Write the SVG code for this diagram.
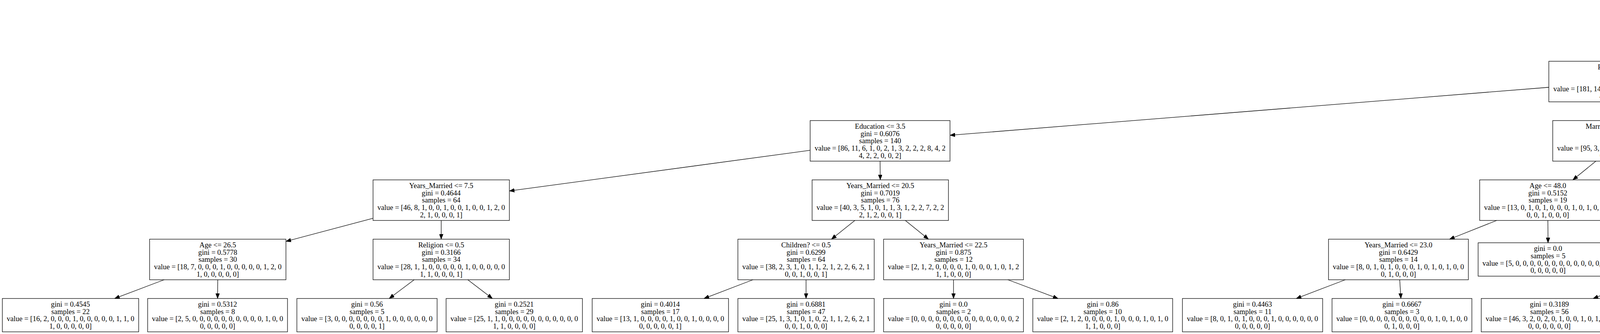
<svg xmlns="http://www.w3.org/2000/svg" width="6785" height="856" viewBox="0 0 6785 856">
<style>
.node rect{fill:none;stroke:#000;stroke-width:1.3}
text{font-family:"Liberation Serif","Times New Roman",serif;font-size:18.6px;fill:#000;text-anchor:middle}
.edge line{stroke:#000;stroke-width:1.3;marker-end:url(#ah)}
</style>
<defs>
<marker id="ah" viewBox="0 0 13 10" refX="13" refY="5" markerWidth="13" markerHeight="10" markerUnits="userSpaceOnUse" orient="auto"><path d="M0,0 L13,5 L0,10 Z" fill="#000" stroke="#000" stroke-width="0.8"/></marker>
</defs>
<rect x="0" y="0" width="6785" height="856" fill="#fff"/>
<g id="edges" class="edge">
<line x1="4336.8" y1="109" x2="4248" y2="157"/>
<line x1="4532.5" y1="109" x2="4621" y2="157"/>
<line x1="3965" y1="223.75" x2="2432" y2="346.65"/>
<line x1="4149" y1="261" x2="4149.5" y2="309"/>
<line x1="4721" y1="261" x2="4720.5" y2="309"/>
<line x1="4900" y1="245" x2="5298" y2="325"/>
<line x1="2074" y1="385.2" x2="1304" y2="489.4"/>
<line x1="2253" y1="413" x2="2253.5" y2="461"/>
<line x1="4085.5" y1="413" x2="4026.5" y2="461"/>
<line x1="4214.5" y1="413" x2="4274.5" y2="461"/>
<line x1="4720.5" y1="413" x2="4720" y2="470.75"/>
<line x1="4850.2" y1="413" x2="4969.9" y2="461"/>
<line x1="5477" y1="413" x2="5477.5" y2="470.75"/>
<line x1="5604.4" y1="413" x2="5722.1" y2="461"/>
<line x1="955" y1="559.4" x2="732" y2="618.6"/>
<line x1="1129.5" y1="565" x2="1129.5" y2="613"/>
<line x1="2188.5" y1="565" x2="2128.5" y2="613"/>
<line x1="2317.6" y1="565" x2="2376.9" y2="613"/>
<line x1="3831.6" y1="565" x2="3710.8" y2="613"/>
<line x1="3962.5" y1="565" x2="3963" y2="622.25"/>
<line x1="4339.5" y1="565" x2="4340" y2="613"/>
<line x1="4467.4" y1="565" x2="4585.6" y2="613"/>
<line x1="5096.25" y1="565" x2="5092.7" y2="622.25"/>
<line x1="5227.3" y1="565" x2="5368.1" y2="622.25"/>
<line x1="5849.5" y1="565" x2="5850.5" y2="613"/>
<line x1="5978.8" y1="565" x2="6098.2" y2="613"/>
<line x1="420.2" y1="717" x2="293.4" y2="765"/>
<line x1="557.5" y1="717" x2="557" y2="765"/>
<line x1="1060.3" y1="717" x2="996.4" y2="765"/>
<line x1="1197.6" y1="717" x2="1260.5" y2="765"/>
<line x1="1927.6" y1="717" x2="1802.2" y2="765"/>
<line x1="2063.5" y1="717" x2="2063.5" y2="765"/>
<line x1="2441" y1="717" x2="2441" y2="765"/>
<line x1="2580.2" y1="717" x2="2708.6" y2="765"/>
<line x1="3443.9" y1="717" x2="3318.4" y2="765"/>
<line x1="3583.3" y1="717" x2="3586.3" y2="765"/>
<line x1="4203.9" y1="717" x2="4078.4" y2="765"/>
<line x1="4340" y1="717" x2="4340" y2="765"/>
<line x1="4713.5" y1="717" x2="4713.5" y2="765"/>
<line x1="4850.7" y1="717" x2="4977.2" y2="765"/>
<line x1="5713" y1="717" x2="5586.1" y2="765"/>
<line x1="5850.5" y1="717" x2="5850.5" y2="765"/>
<line x1="6227.5" y1="717" x2="6228" y2="765"/>
<line x1="6364.8" y1="717" x2="6491.6" y2="765"/>
<text x="4256" y="132">True</text>
<text x="4612.5" y="132">False</text>
</g>
<g id="n0" class="node"><rect x="4246" y="5" width="377" height="104"/><text><tspan x="4434.5" y="26.1">Marriage_Rating &lt;= 3.5</tspan><tspan x="4434.5" y="44.7">gini = 0.3994</tspan><tspan x="4434.5" y="63.3">samples = 420</tspan><tspan x="4434.5" y="81.9">value = [324, 23, 12, 1, 3, 3, 2, 5, 5, 4, 4, 9, 7, 2</tspan><tspan x="4434.5" y="100.5">5, 2, 3, 1, 2, 3]</tspan></text></g>
<g id="n1" class="node"><rect x="3965" y="157" width="368" height="104"/><text><tspan x="4149" y="178.1">Religion &lt;= 2.5</tspan><tspan x="4149" y="196.7">gini = 0.4886</tspan><tspan x="4149" y="215.3">samples = 255</tspan><tspan x="4149" y="233.9">value = [181, 14, 9, 1, 3, 3, 2, 4, 3, 3, 4, 9, 5, 2</tspan><tspan x="4149" y="252.5">4, 2, 3, 1, 0, 2]</tspan></text></g>
<g id="n2" class="node"><rect x="4542" y="157" width="358" height="104"/><text><tspan x="4721" y="178.1">Age &lt;= 18.5</tspan><tspan x="4721" y="196.7">gini = 0.245</tspan><tspan x="4721" y="215.3">samples = 165</tspan><tspan x="4721" y="233.9">value = [143, 9, 3, 0, 0, 0, 0, 1, 2, 1, 0, 0, 2, 0</tspan><tspan x="4721" y="252.5">1, 0, 0, 0, 2, 1]</tspan></text></g>
<g id="n3" class="node"><rect x="2074" y="309" width="358" height="104"/><text><tspan x="2253" y="330.1">Education &lt;= 3.5</tspan><tspan x="2253" y="348.7">gini = 0.6076</tspan><tspan x="2253" y="367.3">samples = 140</tspan><tspan x="2253" y="385.9">value = [86, 11, 6, 1, 0, 2, 1, 3, 2, 2, 2, 8, 4, 2</tspan><tspan x="2253" y="404.5">4, 2, 2, 0, 0, 2]</tspan></text></g>
<g id="n4" class="node"><rect x="3975" y="309" width="349" height="104"/><text><tspan x="4149.5" y="330.1">Marriage_Rating &lt;= 1.5</tspan><tspan x="4149.5" y="348.7">gini = 0.3146</tspan><tspan x="4149.5" y="367.3">samples = 115</tspan><tspan x="4149.5" y="385.9">value = [95, 3, 3, 0, 3, 1, 1, 1, 1, 1, 2, 1, 1, 0</tspan><tspan x="4149.5" y="404.5">0, 0, 1, 1, 0, 0]</tspan></text></g>
<g id="n5" class="node"><rect x="4541.5" y="309" width="358" height="104"/><text><tspan x="4720.5" y="330.1">Years_Married &lt;= 0.875</tspan><tspan x="4720.5" y="348.7">gini = 0.6667</tspan><tspan x="4720.5" y="367.3">samples = 3</tspan><tspan x="4720.5" y="385.9">value = [1, 1, 0, 0, 0, 0, 0, 0, 0, 0, 0, 0, 0, 0, 1</tspan><tspan x="4720.5" y="404.5">0, 0, 0, 0, 0]</tspan></text></g>
<g id="n6" class="node"><rect x="5298" y="309" width="358" height="104"/><text><tspan x="5477" y="330.1">Years_Married &lt;= 3.5</tspan><tspan x="5477" y="348.7">gini = 0.2283</tspan><tspan x="5477" y="367.3">samples = 162</tspan><tspan x="5477" y="385.9">value = [142, 8, 3, 0, 0, 0, 0, 1, 2, 1, 0, 0, 2, 0</tspan><tspan x="5477" y="404.5">0, 0, 0, 0, 2, 1]</tspan></text></g>
<g id="n7" class="node"><rect x="955" y="461" width="349" height="104"/><text><tspan x="1129.5" y="482.1">Years_Married &lt;= 7.5</tspan><tspan x="1129.5" y="500.7">gini = 0.4644</tspan><tspan x="1129.5" y="519.3">samples = 64</tspan><tspan x="1129.5" y="537.9">value = [46, 8, 1, 0, 0, 1, 0, 0, 1, 0, 0, 1, 2, 0</tspan><tspan x="1129.5" y="556.5">2, 1, 0, 0, 0, 1]</tspan></text></g>
<g id="n8" class="node"><rect x="2079" y="461" width="349" height="104"/><text><tspan x="2253.5" y="482.1">Years_Married &lt;= 20.5</tspan><tspan x="2253.5" y="500.7">gini = 0.7019</tspan><tspan x="2253.5" y="519.3">samples = 76</tspan><tspan x="2253.5" y="537.9">value = [40, 3, 5, 1, 0, 1, 1, 3, 1, 2, 2, 7, 2, 2</tspan><tspan x="2253.5" y="556.5">2, 1, 2, 0, 0, 1]</tspan></text></g>
<g id="n9" class="node"><rect x="3788" y="461" width="349" height="104"/><text><tspan x="3962.5" y="482.1">Age &lt;= 48.0</tspan><tspan x="3962.5" y="500.7">gini = 0.5152</tspan><tspan x="3962.5" y="519.3">samples = 19</tspan><tspan x="3962.5" y="537.9">value = [13, 0, 1, 0, 1, 0, 0, 0, 1, 0, 1, 0, 1, 0</tspan><tspan x="3962.5" y="556.5">0, 0, 1, 0, 0, 0]</tspan></text></g>
<g id="n10" class="node"><rect x="4165" y="461" width="349" height="104"/><text><tspan x="4339.5" y="482.1">Age &lt;= 43.5</tspan><tspan x="4339.5" y="500.7">gini = 0.2678</tspan><tspan x="4339.5" y="519.3">samples = 96</tspan><tspan x="4339.5" y="537.9">value = [82, 3, 2, 0, 2, 1, 1, 1, 0, 1, 1, 1, 0, 0</tspan><tspan x="4339.5" y="556.5">0, 0, 0, 1, 0, 0]</tspan></text></g>
<g id="n11" class="node"><rect x="4541" y="470.75" width="358" height="85.5"/><text><tspan x="4720" y="491.9">gini = 0.0</tspan><tspan x="4720" y="510.5">samples = 1</tspan><tspan x="4720" y="529.1">value = [0, 1, 0, 0, 0, 0, 0, 0, 0, 0, 0, 0, 0, 0, 0</tspan><tspan x="4720" y="547.7">0, 0, 0, 0, 0]</tspan></text></g>
<g id="n12" class="node"><rect x="4920" y="461" width="359" height="104"/><text><tspan x="5099.5" y="482.1">Religion &lt;= 1.5</tspan><tspan x="5099.5" y="500.7">gini = 0.5</tspan><tspan x="5099.5" y="519.3">samples = 2</tspan><tspan x="5099.5" y="537.9">value = [1, 0, 0, 0, 0, 0, 0, 0, 0, 0, 0, 0, 0, 0, 1</tspan><tspan x="5099.5" y="556.5">0, 0, 0, 0, 0]</tspan></text></g>
<g id="n13" class="node"><rect x="5303" y="470.75" width="349" height="85.5"/><text><tspan x="5477.5" y="491.9">gini = 0.0</tspan><tspan x="5477.5" y="510.5">samples = 56</tspan><tspan x="5477.5" y="529.1">value = [56, 0, 0, 0, 0, 0, 0, 0, 0, 0, 0, 0, 0, 0</tspan><tspan x="5477.5" y="547.7">0, 0, 0, 0, 0, 0]</tspan></text></g>
<g id="n14" class="node"><rect x="5675" y="461" width="349" height="104"/><text><tspan x="5849.5" y="482.1">Education &lt;= 4.5</tspan><tspan x="5849.5" y="500.7">gini = 0.3339</tspan><tspan x="5849.5" y="519.3">samples = 106</tspan><tspan x="5849.5" y="537.9">value = [86, 8, 3, 0, 0, 0, 0, 1, 2, 1, 0, 0, 2, 0</tspan><tspan x="5849.5" y="556.5">0, 0, 0, 0, 2, 1]</tspan></text></g>
<g id="n15" class="node"><rect x="383" y="613" width="349" height="104"/><text><tspan x="557.5" y="634.1">Age &lt;= 26.5</tspan><tspan x="557.5" y="652.7">gini = 0.5778</tspan><tspan x="557.5" y="671.3">samples = 30</tspan><tspan x="557.5" y="689.9">value = [18, 7, 0, 0, 0, 1, 0, 0, 0, 0, 0, 1, 2, 0</tspan><tspan x="557.5" y="708.5">1, 0, 0, 0, 0, 0]</tspan></text></g>
<g id="n16" class="node"><rect x="955" y="613" width="349" height="104"/><text><tspan x="1129.5" y="634.1">Religion &lt;= 0.5</tspan><tspan x="1129.5" y="652.7">gini = 0.3166</tspan><tspan x="1129.5" y="671.3">samples = 34</tspan><tspan x="1129.5" y="689.9">value = [28, 1, 1, 0, 0, 0, 0, 0, 1, 0, 0, 0, 0, 0</tspan><tspan x="1129.5" y="708.5">1, 1, 0, 0, 0, 1]</tspan></text></g>
<g id="n17" class="node"><rect x="1889" y="613" width="349" height="104"/><text><tspan x="2063.5" y="634.1">Children? &lt;= 0.5</tspan><tspan x="2063.5" y="652.7">gini = 0.6299</tspan><tspan x="2063.5" y="671.3">samples = 64</tspan><tspan x="2063.5" y="689.9">value = [38, 2, 3, 1, 0, 1, 1, 2, 1, 2, 2, 6, 2, 1</tspan><tspan x="2063.5" y="708.5">0, 0, 1, 0, 0, 1]</tspan></text></g>
<g id="n18" class="node"><rect x="2262" y="613" width="358" height="104"/><text><tspan x="2441" y="634.1">Years_Married &lt;= 22.5</tspan><tspan x="2441" y="652.7">gini = 0.875</tspan><tspan x="2441" y="671.3">samples = 12</tspan><tspan x="2441" y="689.9">value = [2, 1, 2, 0, 0, 0, 0, 1, 0, 0, 0, 1, 0, 1, 2</tspan><tspan x="2441" y="708.5">1, 1, 0, 0, 0]</tspan></text></g>
<g id="n19" class="node"><rect x="3401" y="613" width="358" height="104"/><text><tspan x="3580" y="634.1">Years_Married &lt;= 23.0</tspan><tspan x="3580" y="652.7">gini = 0.6429</tspan><tspan x="3580" y="671.3">samples = 14</tspan><tspan x="3580" y="689.9">value = [8, 0, 1, 0, 1, 0, 0, 0, 1, 0, 1, 0, 1, 0, 0</tspan><tspan x="3580" y="708.5">0, 1, 0, 0, 0]</tspan></text></g>
<g id="n20" class="node"><rect x="3784" y="622.25" width="358" height="85.5"/><text><tspan x="3963" y="643.4">gini = 0.0</tspan><tspan x="3963" y="662">samples = 5</tspan><tspan x="3963" y="680.6">value = [5, 0, 0, 0, 0, 0, 0, 0, 0, 0, 0, 0, 0, 0, 0</tspan><tspan x="3963" y="699.2">0, 0, 0, 0, 0]</tspan></text></g>
<g id="n21" class="node"><rect x="4166" y="613" width="348" height="104"/><text><tspan x="4340" y="634.1">Age &lt;= 35.5</tspan><tspan x="4340" y="652.7">gini = 0.2339</tspan><tspan x="4340" y="671.3">samples = 79</tspan><tspan x="4340" y="689.9">value = [69, 3, 2, 0, 2, 0, 1, 0, 0, 1, 0, 1, 0, 0</tspan><tspan x="4340" y="708.5">0, 0, 0, 0, 0, 0]</tspan></text></g>
<g id="n22" class="node"><rect x="4539" y="613" width="349" height="104"/><text><tspan x="4713.5" y="634.1">Education &lt;= 5.5</tspan><tspan x="4713.5" y="652.7">gini = 0.4014</tspan><tspan x="4713.5" y="671.3">samples = 17</tspan><tspan x="4713.5" y="689.9">value = [13, 0, 0, 0, 0, 1, 0, 1, 0, 0, 1, 0, 0, 0</tspan><tspan x="4713.5" y="708.5">0, 0, 0, 1, 0, 0]</tspan></text></g>
<g id="n23" class="node"><rect x="4911" y="622.25" width="358" height="85.5"/><text><tspan x="5090" y="643.4">gini = 0.0</tspan><tspan x="5090" y="662">samples = 1</tspan><tspan x="5090" y="680.6">value = [0, 0, 0, 0, 0, 0, 0, 0, 0, 0, 0, 0, 0, 0, 1</tspan><tspan x="5090" y="699.2">0, 0, 0, 0, 0]</tspan></text></g>
<g id="n24" class="node"><rect x="5294" y="622.25" width="358" height="85.5"/><text><tspan x="5473" y="643.4">gini = 0.0</tspan><tspan x="5473" y="662">samples = 1</tspan><tspan x="5473" y="680.6">value = [1, 0, 0, 0, 0, 0, 0, 0, 0, 0, 0, 0, 0, 0, 0</tspan><tspan x="5473" y="699.2">0, 0, 0, 0, 0]</tspan></text></g>
<g id="n25" class="node"><rect x="5676" y="613" width="349" height="104"/><text><tspan x="5850.5" y="634.1">Children? &lt;= 0.5</tspan><tspan x="5850.5" y="652.7">gini = 0.24</tspan><tspan x="5850.5" y="671.3">samples = 76</tspan><tspan x="5850.5" y="689.9">value = [66, 5, 1, 0, 0, 0, 0, 0, 2, 0, 0, 0, 0, 0</tspan><tspan x="5850.5" y="708.5">0, 0, 0, 0, 2, 0]</tspan></text></g>
<g id="n26" class="node"><rect x="6053" y="613" width="349" height="104"/><text><tspan x="6227.5" y="634.1">Religion &lt;= 0.5</tspan><tspan x="6227.5" y="652.7">gini = 0.5333</tspan><tspan x="6227.5" y="671.3">samples = 30</tspan><tspan x="6227.5" y="689.9">value = [20, 3, 2, 0, 0, 0, 0, 1, 0, 1, 0, 0, 2, 0</tspan><tspan x="6227.5" y="708.5">0, 0, 0, 0, 0, 1]</tspan></text></g>
<g id="n27" class="node"><rect x="6" y="765" width="349" height="85.5"/><text><tspan x="180.5" y="786.15">gini = 0.4545</tspan><tspan x="180.5" y="804.75">samples = 22</tspan><tspan x="180.5" y="823.35">value = [16, 2, 0, 0, 0, 1, 0, 0, 0, 0, 0, 1, 1, 0</tspan><tspan x="180.5" y="841.95">1, 0, 0, 0, 0, 0]</tspan></text></g>
<g id="n28" class="node"><rect x="378" y="765" width="358" height="85.5"/><text><tspan x="557" y="786.15">gini = 0.5312</tspan><tspan x="557" y="804.75">samples = 8</tspan><tspan x="557" y="823.35">value = [2, 5, 0, 0, 0, 0, 0, 0, 0, 0, 0, 0, 1, 0, 0</tspan><tspan x="557" y="841.95">0, 0, 0, 0, 0]</tspan></text></g>
<g id="n29" class="node"><rect x="760" y="765" width="359" height="85.5"/><text><tspan x="939.5" y="786.15">gini = 0.56</tspan><tspan x="939.5" y="804.75">samples = 5</tspan><tspan x="939.5" y="823.35">value = [3, 0, 0, 0, 0, 0, 0, 0, 1, 0, 0, 0, 0, 0, 0</tspan><tspan x="939.5" y="841.95">0, 0, 0, 0, 1]</tspan></text></g>
<g id="n30" class="node"><rect x="1142" y="765" width="349" height="85.5"/><text><tspan x="1316.5" y="786.15">gini = 0.2521</tspan><tspan x="1316.5" y="804.75">samples = 29</tspan><tspan x="1316.5" y="823.35">value = [25, 1, 1, 0, 0, 0, 0, 0, 0, 0, 0, 0, 0, 0</tspan><tspan x="1316.5" y="841.95">1, 1, 0, 0, 0, 0]</tspan></text></g>
<g id="n31" class="node"><rect x="1516" y="765" width="349" height="85.5"/><text><tspan x="1690.5" y="786.15">gini = 0.4014</tspan><tspan x="1690.5" y="804.75">samples = 17</tspan><tspan x="1690.5" y="823.35">value = [13, 1, 0, 0, 0, 0, 1, 0, 0, 1, 0, 0, 0, 0</tspan><tspan x="1690.5" y="841.95">0, 0, 0, 0, 0, 1]</tspan></text></g>
<g id="n32" class="node"><rect x="1889" y="765" width="349" height="85.5"/><text><tspan x="2063.5" y="786.15">gini = 0.6881</tspan><tspan x="2063.5" y="804.75">samples = 47</tspan><tspan x="2063.5" y="823.35">value = [25, 1, 3, 1, 0, 1, 0, 2, 1, 1, 2, 6, 2, 1</tspan><tspan x="2063.5" y="841.95">0, 0, 1, 0, 0, 0]</tspan></text></g>
<g id="n33" class="node"><rect x="2262" y="765" width="358" height="85.5"/><text><tspan x="2441" y="786.15">gini = 0.0</tspan><tspan x="2441" y="804.75">samples = 2</tspan><tspan x="2441" y="823.35">value = [0, 0, 0, 0, 0, 0, 0, 0, 0, 0, 0, 0, 0, 0, 2</tspan><tspan x="2441" y="841.95">0, 0, 0, 0, 0]</tspan></text></g>
<g id="n34" class="node"><rect x="2644" y="765" width="358" height="85.5"/><text><tspan x="2823" y="786.15">gini = 0.86</tspan><tspan x="2823" y="804.75">samples = 10</tspan><tspan x="2823" y="823.35">value = [2, 1, 2, 0, 0, 0, 0, 1, 0, 0, 0, 1, 0, 1, 0</tspan><tspan x="2823" y="841.95">1, 1, 0, 0, 0]</tspan></text></g>
<g id="n35" class="node"><rect x="3027" y="765" width="359" height="85.5"/><text><tspan x="3206.5" y="786.15">gini = 0.4463</tspan><tspan x="3206.5" y="804.75">samples = 11</tspan><tspan x="3206.5" y="823.35">value = [8, 0, 1, 0, 1, 0, 0, 0, 1, 0, 0, 0, 0, 0, 0</tspan><tspan x="3206.5" y="841.95">0, 0, 0, 0, 0]</tspan></text></g>
<g id="n36" class="node"><rect x="3410" y="765" width="358" height="85.5"/><text><tspan x="3589" y="786.15">gini = 0.6667</tspan><tspan x="3589" y="804.75">samples = 3</tspan><tspan x="3589" y="823.35">value = [0, 0, 0, 0, 0, 0, 0, 0, 0, 0, 1, 0, 1, 0, 0</tspan><tspan x="3589" y="841.95">0, 1, 0, 0, 0]</tspan></text></g>
<g id="n37" class="node"><rect x="3792" y="765" width="349" height="85.5"/><text><tspan x="3966.5" y="786.15">gini = 0.3189</tspan><tspan x="3966.5" y="804.75">samples = 56</tspan><tspan x="3966.5" y="823.35">value = [46, 3, 2, 0, 2, 0, 1, 0, 0, 1, 0, 1, 0, 0</tspan><tspan x="3966.5" y="841.95">0, 0, 0, 0, 0, 0]</tspan></text></g>
<g id="n38" class="node"><rect x="4166" y="765" width="348" height="85.5"/><text><tspan x="4340" y="786.15">gini = 0.0</tspan><tspan x="4340" y="804.75">samples = 23</tspan><tspan x="4340" y="823.35">value = [23, 0, 0, 0, 0, 0, 0, 0, 0, 0, 0, 0, 0, 0</tspan><tspan x="4340" y="841.95">0, 0, 0, 0, 0, 0]</tspan></text></g>
<g id="n39" class="node"><rect x="4539" y="765" width="349" height="85.5"/><text><tspan x="4713.5" y="786.15">gini = 0.2722</tspan><tspan x="4713.5" y="804.75">samples = 13</tspan><tspan x="4713.5" y="823.35">value = [11, 0, 0, 0, 0, 1, 0, 0, 0, 0, 1, 0, 0, 0</tspan><tspan x="4713.5" y="841.95">0, 0, 0, 0, 0, 0]</tspan></text></g>
<g id="n40" class="node"><rect x="4911" y="765" width="358" height="85.5"/><text><tspan x="5090" y="786.15">gini = 0.625</tspan><tspan x="5090" y="804.75">samples = 4</tspan><tspan x="5090" y="823.35">value = [2, 0, 0, 0, 0, 0, 0, 1, 0, 0, 0, 0, 0, 0, 0</tspan><tspan x="5090" y="841.95">0, 0, 1, 0, 0]</tspan></text></g>
<g id="n41" class="node"><rect x="5294" y="765" width="358" height="85.5"/><text><tspan x="5473" y="786.15">gini = 0.5972</tspan><tspan x="5473" y="804.75">samples = 12</tspan><tspan x="5473" y="823.35">value = [7, 2, 0, 0, 0, 0, 0, 0, 2, 0, 0, 0, 0, 0, 0</tspan><tspan x="5473" y="841.95">0, 0, 0, 1, 0]</tspan></text></g>
<g id="n42" class="node"><rect x="5676" y="765" width="349" height="85.5"/><text><tspan x="5850.5" y="786.15">gini = 0.1475</tspan><tspan x="5850.5" y="804.75">samples = 64</tspan><tspan x="5850.5" y="823.35">value = [59, 3, 1, 0, 0, 0, 0, 0, 0, 0, 0, 0, 0, 0</tspan><tspan x="5850.5" y="841.95">0, 0, 0, 0, 1, 0]</tspan></text></g>
<g id="n43" class="node"><rect x="6049" y="765" width="358" height="85.5"/><text><tspan x="6228" y="786.15">gini = 0.625</tspan><tspan x="6228" y="804.75">samples = 4</tspan><tspan x="6228" y="823.35">value = [1, 0, 0, 0, 0, 0, 0, 0, 0, 0, 0, 0, 2, 0, 0</tspan><tspan x="6228" y="841.95">0, 0, 0, 0, 1]</tspan></text></g>
<g id="n44" class="node"><rect x="6430" y="765" width="349" height="85.5"/><text><tspan x="6604.5" y="786.15">gini = 0.4438</tspan><tspan x="6604.5" y="804.75">samples = 26</tspan><tspan x="6604.5" y="823.35">value = [19, 3, 2, 0, 0, 0, 0, 1, 0, 1, 0, 0, 0, 0</tspan><tspan x="6604.5" y="841.95">0, 0, 0, 0, 0, 0]</tspan></text></g>
</svg>
